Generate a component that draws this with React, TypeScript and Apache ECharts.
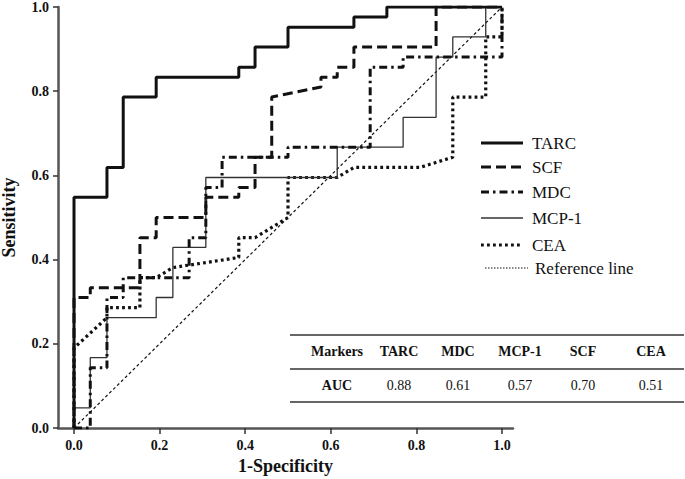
import React, { useEffect, useRef } from "react";
import * as echarts from "echarts";

// ---- data ----
const xTickValues = [0, 0.2, 0.4, 0.6, 0.8, 1.0];
const legendNames = ["TARC", "SCF", "MDC", "MCP-1", "CEA", "Reference line"];

const tarcFpr = [0, 0, 0.077, 0.077, 0.115, 0.115, 0.192, 0.192, 0.385, 0.385, 0.423, 0.423, 0.5, 0.5, 0.654, 0.654, 0.731, 0.731, 1];
const tarcTpr = [0, 0.548, 0.548, 0.619, 0.619, 0.786, 0.786, 0.833, 0.833, 0.857, 0.857, 0.905, 0.905, 0.952, 0.952, 0.976, 0.976, 1, 1];

const scfFpr = [0, 0, 0.038, 0.038, 0.154, 0.154, 0.192, 0.192, 0.308, 0.308, 0.385, 0.385, 0.423, 0.423, 0.462, 0.462, 0.577, 0.577, 0.615, 0.615, 0.654, 0.654, 0.846, 0.846, 1];
const scfTpr = [0, 0.31, 0.31, 0.333, 0.333, 0.452, 0.452, 0.5, 0.5, 0.548, 0.548, 0.571, 0.571, 0.643, 0.643, 0.786, 0.81, 0.833, 0.833, 0.857, 0.857, 0.905, 0.905, 1, 1];

const mdcFpr = [0, 0.038, 0.038, 0.077, 0.077, 0.115, 0.115, 0.269, 0.269, 0.308, 0.308, 0.346, 0.346, 0.5, 0.5, 0.692, 0.692, 0.769, 0.769, 1, 1];
const mdcTpr = [0, 0, 0.143, 0.143, 0.31, 0.31, 0.357, 0.357, 0.452, 0.452, 0.571, 0.571, 0.643, 0.643, 0.667, 0.667, 0.857, 0.857, 0.881, 0.881, 1];

const mcpFpr = [0, 0, 0.038, 0.038, 0.077, 0.077, 0.192, 0.192, 0.231, 0.231, 0.308, 0.308, 0.615, 0.615, 0.769, 0.769, 0.846, 0.846, 0.885, 0.885, 0.962, 0.962, 1];
const mcpTpr = [0, 0.048, 0.048, 0.167, 0.167, 0.262, 0.262, 0.31, 0.31, 0.429, 0.429, 0.595, 0.595, 0.667, 0.667, 0.738, 0.738, 0.881, 0.881, 0.929, 0.929, 1, 1];

const ceaFpr = [0, 0, 0.077, 0.077, 0.154, 0.154, 0.192, 0.231, 0.385, 0.385, 0.423, 0.5, 0.5, 0.615, 0.654, 0.808, 0.885, 0.885, 0.962, 0.962, 1, 1];
const ceaTpr = [0, 0.19, 0.262, 0.286, 0.286, 0.357, 0.357, 0.381, 0.405, 0.452, 0.452, 0.5, 0.595, 0.595, 0.619, 0.619, 0.643, 0.786, 0.786, 0.929, 0.929, 1];

const refFpr = [0, 1];
const refTpr = [0, 1];

const tableHeader = ["Markers", "TARC", "MDC", "MCP-1", "SCF", "CEA"];
const aucRow = ["AUC", "0.88", "0.61", "0.57", "0.70", "0.51"];

// ---- helpers ----
const pair = (xs: number[], ys: number[]) => xs.map((x, i) => [x, ys[i]]);
const SERIF = "'Liberation Serif', 'Times New Roman', serif";
const INK = "#111";

const styles: Record<string, { width: number; type: any; color: string }> = {
  TARC: { width: 3, type: "solid", color: INK },
  SCF: { width: 3, type: [10, 5], color: INK },
  MDC: { width: 3, type: [8, 4, 2.5, 4], color: INK },
  "MCP-1": { width: 1.3, type: "solid", color: "#333" },
  CEA: { width: 3.2, type: [2.8, 3.2], color: INK },
  "Reference line": { width: 1.2, type: [3, 2.5], color: INK },
};

export default function App() {
  const ref = useRef<HTMLDivElement>(null);
  useEffect(() => {
    if (!ref.current) return;
    const chart = echarts.init(ref.current, undefined, { renderer: "svg" });

    const seriesData: Record<string, number[][]> = {
      "Reference line": pair(refFpr, refTpr),
      CEA: pair(ceaFpr, ceaTpr),
      "MCP-1": pair(mcpFpr, mcpTpr),
      MDC: pair(mdcFpr, mdcTpr),
      SCF: pair(scfFpr, scfTpr),
      TARC: pair(tarcFpr, tarcTpr),
    };

    const series = Object.keys(seriesData).map((name) => ({
      name,
      type: "line",
      data: seriesData[name],
      showSymbol: false,
      symbol: "none",
      silent: true,
      emphasis: { disabled: true },
      lineStyle: { width: styles[name].width, type: styles[name].type, color: styles[name].color, cap: "butt" },
    }));

    // legend graphics
    const legendYs = [143, 167, 192, 218, 245, 268];
    const legendEls: any[] = [];
    legendNames.forEach((name, i) => {
      const st = styles[name];
      const isRef = name === "Reference line";
      legendEls.push({
        type: "line",
        shape: { x1: isRef ? 485 : 481, y1: legendYs[i], x2: isRef ? 528 : 523, y2: legendYs[i] },
        style: {
          stroke: st.color,
          lineWidth: isRef ? 1 : st.width,
          lineDash: Array.isArray(st.type) ? (isRef ? [1.5, 1.5] : st.type) : null,
        },
        silent: true,
      });
      legendEls.push({
        type: "text",
        x: isRef ? 535 : 532,
        y: legendYs[i],
        style: { text: name, font: `17px ${SERIF}`, fill: INK, verticalAlign: "middle", align: "left" },
        silent: true,
      });
    });

    // table graphics
    const colX = [337, 399, 458, 520, 583, 651];
    const tableEls: any[] = [];
    [335, 369, 402].forEach((y) => {
      tableEls.push({
        type: "line",
        shape: { x1: 290, y1: y, x2: 684, y2: y },
        style: { stroke: "#333", lineWidth: 1.6 },
        silent: true,
      });
    });
    tableHeader.forEach((t, i) => {
      tableEls.push({
        type: "text",
        x: colX[i],
        y: 351,
        style: { text: t, font: `bold 14px ${SERIF}`, fill: INK, align: "center", verticalAlign: "middle" },
        silent: true,
      });
    });
    aucRow.forEach((t, i) => {
      tableEls.push({
        type: "text",
        x: colX[i],
        y: 385,
        style: { text: t, font: `${i === 0 ? "bold " : ""}14px ${SERIF}`, fill: INK, align: "center", verticalAlign: "middle" },
        silent: true,
      });
    });

    chart.setOption({
      animation: false,
      backgroundColor: "#fff",
      grid: { left: 58, top: 7, right: 172, bottom: 51, containLabel: false, outerBoundsMode: "none" },
      xAxis: {
        type: "value",
        min: -0.0374,
        max: 1.0257,
        name: "1-Specificity",
        nameLocation: "middle",
        nameGap: 27,
        nameTextStyle: { fontFamily: SERIF, fontWeight: "bold", fontSize: 18, color: INK },
        splitLine: { show: false },
        axisLine: { show: true, onZero: false, lineStyle: { color: "#555", width: 2.5 } },
        axisTick: { show: true, length: 6, customValues: xTickValues, lineStyle: { color: "#333", width: 1.5 } },
        axisLabel: {
          customValues: xTickValues,
          margin: 10,
          fontFamily: SERIF,
          fontWeight: "bold",
          fontSize: 14,
          color: INK,
          formatter: (v: number) => v.toFixed(1),
        },
      },
      yAxis: {
        type: "value",
        min: 0,
        max: 1,
        interval: 0.2,
        name: "Sensitivity",
        nameLocation: "middle",
        nameGap: 40,
        nameTextStyle: { fontFamily: SERIF, fontWeight: "bold", fontSize: 18, color: INK },
        splitLine: { show: false },
        axisLine: { show: true, onZero: false, lineStyle: { color: "#555", width: 2.5 } },
        axisTick: { show: true, length: 5, lineStyle: { color: "#333", width: 1.5 } },
        axisLabel: {
          margin: 9,
          fontFamily: SERIF,
          fontWeight: "bold",
          fontSize: 14,
          color: INK,
          formatter: (v: number) => v.toFixed(1),
        },
      },
      series,
      graphic: [...legendEls, ...tableEls],
    });

    return () => chart.dispose();
  }, []);

  return (
    <div
      ref={ref}
      style={{ position: "absolute", left: 0, top: 0, width: 685, height: 479, background: "#fff" }}
    />
  );
}
